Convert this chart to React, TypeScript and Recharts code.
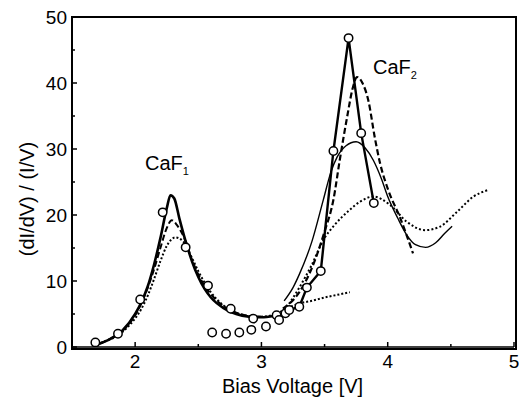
import React from "react";
import {
  ComposedChart,
  Line,
  Scatter,
  XAxis,
  YAxis,
} from "recharts";

type P = [number, number];

// x: bias voltage [V], y: (dI/dV)/(I/V)
const xMajorTicks = [2, 3, 4, 5];
const xMinorTicks = [2.5, 3.5, 4.5];
const yMajorTicks = [0, 10, 20, 30, 40, 50];
const yMinorTicks = [5, 15, 25, 35, 45];
const X_DOMAIN: [number, number] = [1.5, 5];
const Y_DOMAIN: [number, number] = [0, 50];

// experimental points, CaF1 branch (open circles)
const exptUpper: P[] = [
  [1.685, 0.7], [1.864, 2.0], [2.04, 7.2], [2.218, 20.4], [2.4, 15.1],
  [2.577, 9.3], [2.757, 5.8], [2.935, 4.3], [3.12, 4.8], [3.19, 5.1],
];
// experimental points, lower branch (open circles)
const exptLower: P[] = [
  [2.61, 2.2], [2.72, 2.0], [2.825, 2.2], [2.92, 2.6], [3.036, 3.1],
];
// experimental points connected by a line, CaF2 peak
const exptCaF2: P[] = [
  [3.14, 4.1], [3.22, 5.6], [3.3, 6.1], [3.36, 9.0], [3.47, 11.5],
  [3.57, 29.7], [3.69, 46.8], [3.79, 32.4], [3.89, 21.8],
];

// calculated curves, CaF1
const caf1Solid: P[] = [
  [1.7, 0.4], [1.8, 1.2], [1.9, 2.5], [2.0, 5.0], [2.05, 6.8], [2.1, 9.2],
  [2.15, 12.5], [2.2, 16.5], [2.25, 21.0], [2.28, 23.0], [2.31, 22.5],
  [2.35, 19.5], [2.4, 16.0], [2.45, 13.0], [2.5, 10.6], [2.55, 8.8],
  [2.6, 7.5], [2.7, 5.9], [2.8, 5.0], [2.9, 4.6], [3.0, 4.5], [3.1, 4.7],
];
const caf1Dashed: P[] = [
  [1.72, 0.5], [1.8, 1.2], [1.9, 2.5], [2.0, 4.8], [2.1, 9.0], [2.15, 11.8],
  [2.2, 15.0], [2.25, 18.0], [2.29, 19.2], [2.33, 18.5], [2.4, 16.0],
  [2.45, 13.2], [2.5, 11.0], [2.6, 8.0], [2.7, 6.2], [2.8, 5.2], [2.9, 4.7],
  [3.0, 4.6],
];
const caf1Dotted: P[] = [
  [1.7, 0.3], [1.75, 0.8], [1.85, 1.6], [1.95, 3.2], [2.05, 5.8], [2.1, 7.8],
  [2.15, 10.3], [2.2, 13.0], [2.25, 15.3], [2.32, 16.6], [2.38, 16.0],
  [2.45, 13.5], [2.5, 11.5], [2.6, 8.3], [2.7, 6.3], [2.8, 5.2], [2.9, 4.7],
  [3.0, 4.6], [3.1, 4.9], [3.2, 5.8], [3.3, 6.6], [3.4, 7.0], [3.5, 7.5],
  [3.6, 7.9], [3.7, 8.3],
];

// calculated curves, CaF2
const caf2Dashed: P[] = [
  [3.17, 5.8], [3.3, 8.3], [3.4, 12.0], [3.5, 17.5], [3.57, 22.3],
  [3.62, 28.3], [3.68, 35.0], [3.72, 39.0], [3.757, 40.9], [3.8, 40.0],
  [3.846, 37.4], [3.9, 31.5], [3.94, 27.8], [4.0, 24.0], [4.1, 19.5],
  [4.2, 14.2],
];
const caf2Thin: P[] = [
  [3.18, 7.0], [3.25, 9.0], [3.3, 11.0], [3.4, 16.0], [3.49, 22.3],
  [3.55, 26.5], [3.6, 28.8], [3.67, 30.5], [3.75, 31.1], [3.82, 30.2],
  [3.886, 28.3], [3.95, 25.5], [4.0, 22.8], [4.08, 19.5], [4.15, 17.0],
  [4.22, 15.5], [4.3, 15.1], [4.38, 15.8], [4.45, 17.2], [4.51, 18.3],
];
const caf2Dotted: P[] = [
  [3.2, 6.0], [3.3, 9.0], [3.4, 12.5], [3.49, 16.2], [3.58, 18.5],
  [3.7, 20.8], [3.78, 22.0], [3.886, 22.8], [4.02, 21.5], [4.15, 19.0],
  [4.295, 17.7], [4.41, 18.2], [4.55, 20.5], [4.68, 22.8], [4.796, 23.8],
];

const toXY = (arr: P[]) => arr.map(([x, y]) => ({ x, y }));

// layout
const W = 519;
const H = 402;
const MARGIN = { top: 17, right: 5, bottom: 25, left: 0 };
const X_AXIS_H = 30;
const Y_AXIS_W = 72;
const PLOT_X = MARGIN.left + Y_AXIS_W;
const PLOT_Y = MARGIN.top;
const PLOT_W = W - MARGIN.left - MARGIN.right - Y_AXIS_W;
const PLOT_H = H - MARGIN.top - MARGIN.bottom - X_AXIS_H;

const FONT = "'Liberation Sans', Arial, Helvetica, sans-serif";
const TICK_SIZE = 6;
const TICK_MARGIN = 2;
const OFFSET = TICK_SIZE + TICK_MARGIN;
const FRAME = 1.5;

const XTick = (props: any) => {
  const { x, y, payload } = props;
  const v = payload.value;
  const major = xMajorTicks.includes(v);
  const axisY = y - OFFSET;
  return (
    <g>
      <line x1={x} x2={x} y1={axisY} y2={axisY - (major ? 5 : 3)} stroke="#000" strokeWidth={FRAME} />
      {major && (
        <text x={x} y={y} dy="0.71em" textAnchor="middle" fill="#000" fontSize={19} fontFamily={FONT}>
          {v}
        </text>
      )}
    </g>
  );
};

const YTick = (props: any) => {
  const { x, y, payload } = props;
  const v = payload.value;
  const major = yMajorTicks.includes(v);
  const axisX = x + OFFSET;
  return (
    <g>
      <line x1={axisX} x2={axisX + (major ? 5 : 3)} y1={y} y2={y} stroke="#000" strokeWidth={FRAME} />
      {major && (
        <text x={axisX - 5} y={y} dy="0.355em" textAnchor="end" fill="#000" fontSize={19} fontFamily={FONT}>
          {v}
        </text>
      )}
    </g>
  );
};

const curve = (
  data: P[],
  key: string,
  width: number,
  dash?: string,
  type: "monotone" | "linear" = "monotone"
) => (
  <Line
    key={key}
    data={toXY(data)}
    dataKey="y"
    type={type}
    stroke="#000"
    strokeWidth={width}
    strokeDasharray={dash}
    dot={false}
    activeDot={false}
    isAnimationActive={false}
  />
);

const circleShape = (props: any) => (
  <circle cx={props.cx} cy={props.cy} r={4.2} fill="#fff" stroke="#000" strokeWidth={1.5} />
);

export default function App() {
  return (
    <div style={{ position: "absolute", left: 0, top: 0, width: W, height: H, background: "#fff" }}>
      <ComposedChart width={W} height={H} margin={MARGIN}>
        <XAxis
          dataKey="x"
          type="number"
          domain={X_DOMAIN}
          ticks={[...xMajorTicks, ...xMinorTicks].sort((a, b) => a - b)}
          interval={0}
          allowDataOverflow
          height={X_AXIS_H}
          tickLine={false}
          tickSize={TICK_SIZE}
          tickMargin={TICK_MARGIN}
          axisLine={{ stroke: "#000", strokeWidth: FRAME }}
          tick={<XTick />}
        />
        <YAxis
          type="number"
          domain={Y_DOMAIN}
          ticks={[...yMajorTicks, ...yMinorTicks].sort((a, b) => a - b)}
          interval={0}
          allowDataOverflow
          width={Y_AXIS_W}
          tickLine={false}
          tickSize={TICK_SIZE}
          tickMargin={TICK_MARGIN}
          axisLine={{ stroke: "#000", strokeWidth: FRAME }}
          tick={<YTick />}
        />
        {curve(caf1Solid, "c1s", 2.6)}
        {curve(caf1Dashed, "c1d", 2, "6 3")}
        {curve(caf1Dotted, "c1o", 2, "2 2")}
        {curve(caf2Dashed, "c2d", 2.2, "6 3")}
        {curve(caf2Thin, "c2t", 1.4)}
        {curve(caf2Dotted, "c2o", 2, "2 2.2")}
        {curve(exptCaF2, "e2", 2.4, undefined, "linear")}
        <Scatter data={toXY(exptUpper)} dataKey="y" shape={circleShape} isAnimationActive={false} />
        <Scatter data={toXY(exptLower)} dataKey="y" shape={circleShape} isAnimationActive={false} />
        <Scatter data={toXY(exptCaF2)} dataKey="y" shape={circleShape} isAnimationActive={false} />
      </ComposedChart>
      <div
        style={{
          position: "absolute",
          left: PLOT_X - 1,
          top: PLOT_Y - 1,
          width: PLOT_W,
          height: PLOT_H,
          border: "2px solid #000",
          boxSizing: "content-box",
          pointerEvents: "none",
          marginLeft: 0,
          marginTop: 0,
        }}
      />
      <svg
        width={W}
        height={H}
        style={{ position: "absolute", left: 0, top: 0, pointerEvents: "none" }}
        fontFamily={FONT}
      >
        <text
          x={27}
          y={199}
          transform="rotate(-90 27 199)"
          textAnchor="middle"
          dominantBaseline="central"
          fontSize={20}
          fill="#000"
        >
          (dI/dV) / (I/V)
        </text>
        <text x={292.5} y={393} textAnchor="middle" fontSize={20} fill="#000">
          Bias Voltage [V]
        </text>
        <text x={145} y={170} fontSize={20} fill="#000">
          CaF<tspan fontSize={11} dy={5}>1</tspan>
        </text>
        <text x={373} y={74} fontSize={20} fill="#000">
          CaF<tspan fontSize={11} dy={5}>2</tspan>
        </text>
      </svg>
    </div>
  );
}
